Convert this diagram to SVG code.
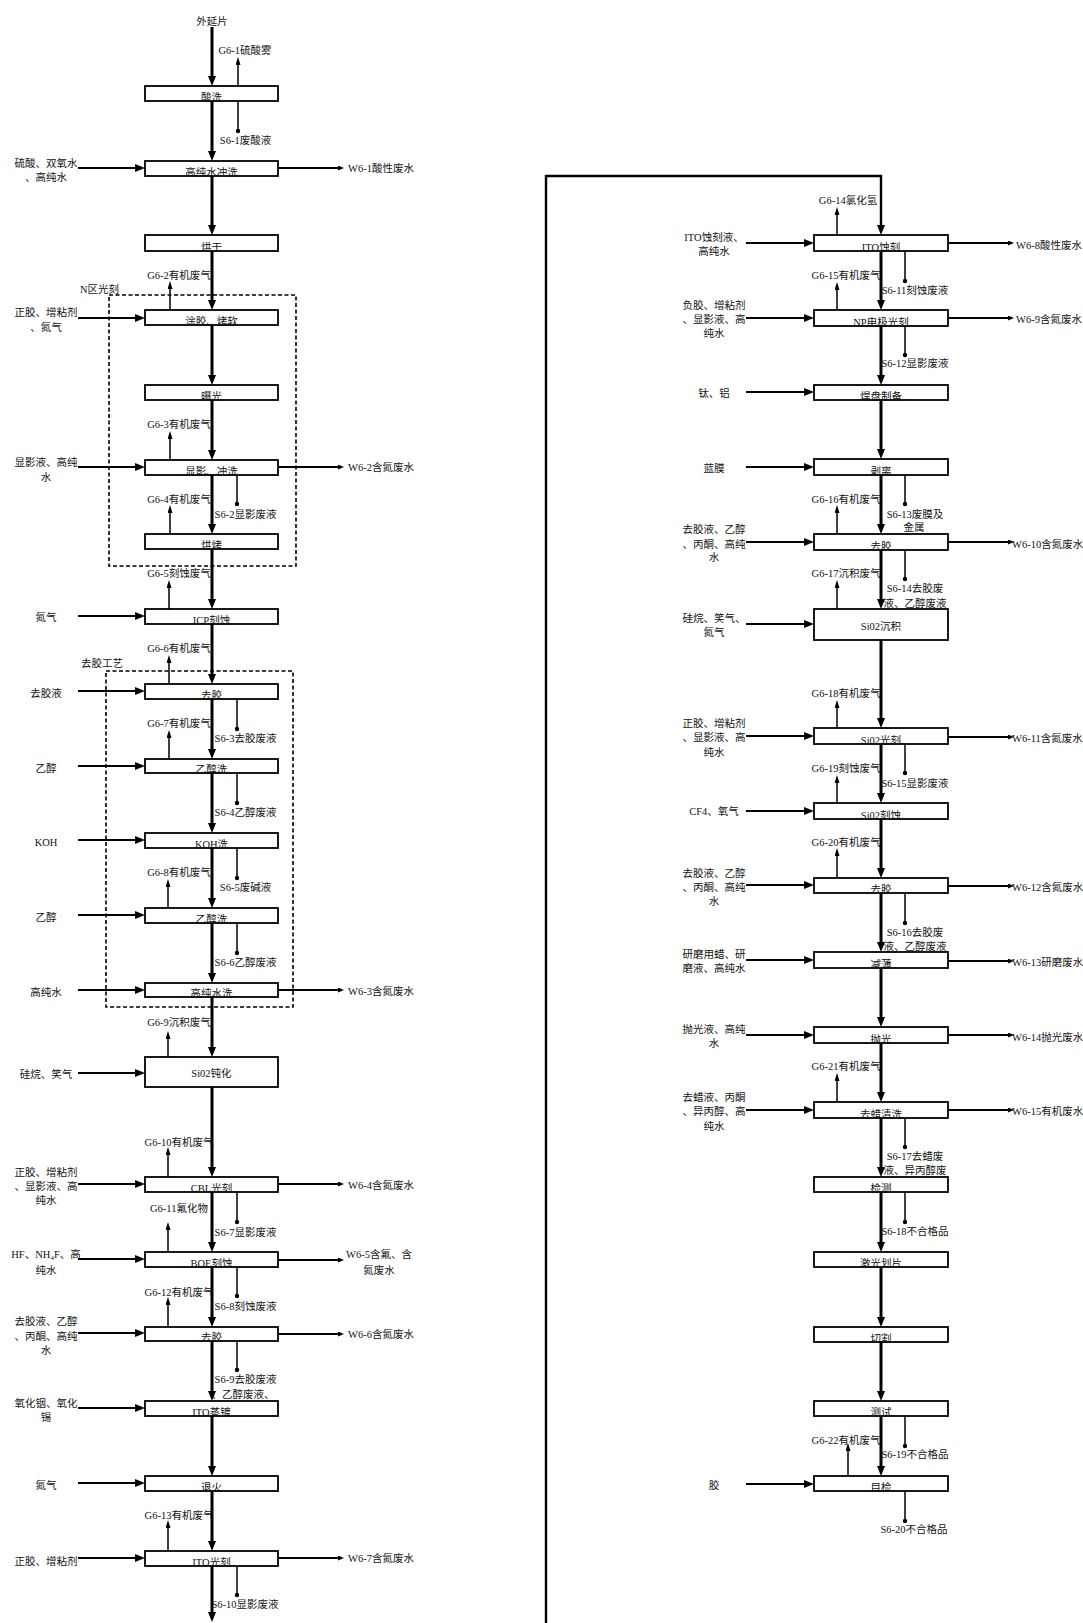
<svg xmlns="http://www.w3.org/2000/svg" width="1083" height="1623" viewBox="0 0 1083 1623">
<style>
text{font-family:"Liberation Serif","Noto Sans CJK SC",serif;font-size:10.5px;fill:#111}
.m{text-anchor:middle}
.box{fill:#fff;stroke:#000;stroke-width:1.8}
.main{stroke:#000;stroke-width:3;fill:none}
.loop{stroke:#000;stroke-width:2.4;fill:none}
.in{stroke:#000;stroke-width:2.2}
.out{stroke:#000;stroke-width:1.8}
.g{stroke:#000;stroke-width:1.5}
.s{stroke:#000;stroke-width:1.5}
.dash{fill:none;stroke:#000;stroke-width:1.6;stroke-dasharray:4 2.5}
</style>
<defs>
<marker id="a" viewBox="0 0 10 8" refX="4" refY="4" markerWidth="10" markerHeight="8" markerUnits="userSpaceOnUse" orient="auto"><path d="M0,0 L10,4 L0,8 z" fill="#000"/></marker>
<marker id="sm" viewBox="0 0 6 5" refX="3" refY="2.5" markerWidth="6" markerHeight="5" markerUnits="userSpaceOnUse" orient="auto"><path d="M0,0 L6,2.5 L0,5 z" fill="#000"/></marker>
<marker id="gm" viewBox="0 0 8 5" refX="4" refY="2.5" markerWidth="8" markerHeight="5" markerUnits="userSpaceOnUse" orient="auto"><path d="M0,0 L8,2.5 L0,5 z" fill="#000"/></marker>
</defs>
<rect width="1083" height="1623" fill="#fff"/>

<g id="connectors">
<g class="main" marker-end="url(#a)">
<line x1="212" y1="27" x2="212" y2="80"/>
<line x1="212" y1="101" x2="212" y2="155"/>
<line x1="212" y1="176" x2="212" y2="229"/>
<line x1="212" y1="251" x2="212" y2="304"/>
<line x1="212" y1="325" x2="212" y2="379"/>
<line x1="212" y1="400" x2="212" y2="454"/>
<line x1="212" y1="475" x2="212" y2="528"/>
<line x1="212" y1="549" x2="212" y2="603"/>
<line x1="212" y1="624" x2="212" y2="678"/>
<line x1="212" y1="699" x2="212" y2="753"/>
<line x1="212" y1="773" x2="212" y2="827"/>
<line x1="212" y1="848" x2="212" y2="902"/>
<line x1="212" y1="923" x2="212" y2="977"/>
<line x1="212" y1="997" x2="212" y2="1051"/>
<line x1="212" y1="1087" x2="212" y2="1171"/>
<line x1="212" y1="1192" x2="212" y2="1246"/>
<line x1="212" y1="1267" x2="212" y2="1321"/>
<line x1="212" y1="1341" x2="212" y2="1395"/>
<line x1="212" y1="1416" x2="212" y2="1470"/>
<line x1="212" y1="1491" x2="212" y2="1545"/>
<line x1="212" y1="1566" x2="212" y2="1616"/>
</g>
<path class="loop" d="M546,1623 V176 H881 V229" marker-end="url(#a)"/>
<g class="main" marker-end="url(#a)">
<line x1="881" y1="251" x2="881" y2="304"/>
<line x1="881" y1="326" x2="881" y2="379"/>
<line x1="881" y1="400" x2="881" y2="453"/>
<line x1="881" y1="475" x2="881" y2="528"/>
<line x1="881" y1="550" x2="881" y2="603"/>
<line x1="881" y1="640" x2="881" y2="722"/>
<line x1="881" y1="744" x2="881" y2="797"/>
<line x1="881" y1="819" x2="881" y2="872"/>
<line x1="881" y1="893" x2="881" y2="946"/>
<line x1="881" y1="968" x2="881" y2="1021"/>
<line x1="881" y1="1043" x2="881" y2="1096"/>
<line x1="881" y1="1118" x2="881" y2="1171"/>
<line x1="881" y1="1192" x2="881" y2="1246"/>
<line x1="881" y1="1267" x2="881" y2="1321"/>
<line x1="881" y1="1342" x2="881" y2="1395"/>
<line x1="881" y1="1416" x2="881" y2="1470"/>
</g>
<g class="in" marker-end="url(#a)">
<line x1="78" y1="168" x2="139" y2="168"/>
<line x1="78" y1="318" x2="139" y2="318"/>
<line x1="78" y1="467" x2="139" y2="467"/>
<line x1="78" y1="616" x2="139" y2="616"/>
<line x1="78" y1="691" x2="139" y2="691"/>
<line x1="78" y1="766" x2="139" y2="766"/>
<line x1="78" y1="840" x2="139" y2="840"/>
<line x1="78" y1="915" x2="139" y2="915"/>
<line x1="78" y1="990" x2="139" y2="990"/>
<line x1="78" y1="1073" x2="139" y2="1073"/>
<line x1="78" y1="1184" x2="139" y2="1184"/>
<line x1="78" y1="1259" x2="139" y2="1259"/>
<line x1="78" y1="1333" x2="139" y2="1333"/>
<line x1="78" y1="1408" x2="139" y2="1408"/>
<line x1="78" y1="1483" x2="139" y2="1483"/>
<line x1="78" y1="1558" x2="139" y2="1558"/>
</g>
<g class="in" marker-end="url(#a)">
<line x1="746" y1="243" x2="808" y2="243"/>
<line x1="746" y1="318" x2="808" y2="318"/>
<line x1="746" y1="392" x2="808" y2="392"/>
<line x1="746" y1="467" x2="808" y2="467"/>
<line x1="746" y1="542" x2="808" y2="542"/>
<line x1="746" y1="624" x2="808" y2="624"/>
<line x1="746" y1="736" x2="808" y2="736"/>
<line x1="746" y1="811" x2="808" y2="811"/>
<line x1="746" y1="885" x2="808" y2="885"/>
<line x1="746" y1="960" x2="808" y2="960"/>
<line x1="746" y1="1035" x2="808" y2="1035"/>
<line x1="746" y1="1110" x2="808" y2="1110"/>
<line x1="746" y1="1484" x2="808" y2="1484"/>
</g>
<g class="out" marker-end="url(#sm)">
<line x1="278" y1="168" x2="341" y2="168"/>
<line x1="278" y1="467" x2="341" y2="467"/>
<line x1="278" y1="990" x2="341" y2="990"/>
<line x1="278" y1="1184" x2="341" y2="1184"/>
<line x1="278" y1="1260" x2="341" y2="1260"/>
<line x1="278" y1="1334" x2="341" y2="1334"/>
<line x1="278" y1="1558" x2="341" y2="1558"/>
</g>
<g class="out" marker-end="url(#sm)">
<line x1="948" y1="243" x2="1011" y2="243"/>
<line x1="948" y1="318" x2="1011" y2="318"/>
<line x1="948" y1="542" x2="1011" y2="542"/>
<line x1="948" y1="737" x2="1011" y2="737"/>
<line x1="948" y1="886" x2="1011" y2="886"/>
<line x1="948" y1="961" x2="1011" y2="961"/>
<line x1="948" y1="1035" x2="1011" y2="1035"/>
<line x1="948" y1="1110" x2="1011" y2="1110"/>
</g>
<g class="g" marker-end="url(#gm)">
<line x1="238" y1="86" x2="238" y2="61"/>
<line x1="170" y1="310" x2="170" y2="285"/>
<line x1="170" y1="460" x2="170" y2="435"/>
<line x1="170" y1="534" x2="170" y2="509"/>
<line x1="169" y1="609" x2="169" y2="584"/>
<line x1="169" y1="684" x2="169" y2="659"/>
<line x1="169" y1="759" x2="169" y2="734"/>
<line x1="168" y1="908" x2="168" y2="883"/>
<line x1="168" y1="1057" x2="168" y2="1035"/>
<line x1="168" y1="1177" x2="168" y2="1151"/>
<line x1="168" y1="1252" x2="168" y2="1226"/>
<line x1="168" y1="1327" x2="168" y2="1301"/>
<line x1="168" y1="1551" x2="168" y2="1524"/>
<line x1="837" y1="235" x2="837" y2="211"/>
<line x1="837" y1="310" x2="837" y2="286"/>
<line x1="837" y1="534" x2="837" y2="509"/>
<line x1="837" y1="609" x2="837" y2="584"/>
<line x1="837" y1="728" x2="837" y2="704"/>
<line x1="837" y1="803" x2="837" y2="779"/>
<line x1="837" y1="878" x2="837" y2="852"/>
<line x1="837" y1="1102" x2="837" y2="1077"/>
<line x1="848" y1="1476" x2="848" y2="1447"/>
</g>
<g class="s">
<line x1="238" y1="101" x2="238" y2="131"/>
<line x1="237" y1="475" x2="237" y2="504"/>
<line x1="237" y1="699" x2="237" y2="729"/>
<line x1="237" y1="773" x2="237" y2="803"/>
<line x1="237" y1="848" x2="237" y2="878"/>
<line x1="237" y1="923" x2="237" y2="953"/>
<line x1="237" y1="1192" x2="237" y2="1222"/>
<line x1="237" y1="1267" x2="237" y2="1296"/>
<line x1="237" y1="1341" x2="237" y2="1370"/>
<line x1="237" y1="1566" x2="237" y2="1595"/>
<line x1="905" y1="251" x2="905" y2="281"/>
<line x1="905" y1="326" x2="905" y2="355"/>
<line x1="905" y1="475" x2="905" y2="504"/>
<line x1="905" y1="550" x2="905" y2="579"/>
<line x1="905" y1="744" x2="905" y2="773"/>
<line x1="905" y1="893" x2="905" y2="923"/>
<line x1="905" y1="1118" x2="905" y2="1147"/>
<line x1="905" y1="1192" x2="905" y2="1222"/>
<line x1="905" y1="1416" x2="905" y2="1446"/>
<line x1="905" y1="1491" x2="905" y2="1521"/>
</g>
<g fill="#000">
<circle cx="238" cy="131" r="2.2"/>
<circle cx="237" cy="504" r="2.2"/>
<circle cx="237" cy="729" r="2.2"/>
<circle cx="237" cy="803" r="2.2"/>
<circle cx="237" cy="878" r="2.2"/>
<circle cx="237" cy="953" r="2.2"/>
<circle cx="237" cy="1222" r="2.2"/>
<circle cx="237" cy="1296" r="2.2"/>
<circle cx="237" cy="1370" r="2.2"/>
<circle cx="237" cy="1595" r="2.2"/>
<circle cx="905" cy="281" r="2.2"/>
<circle cx="905" cy="355" r="2.2"/>
<circle cx="905" cy="504" r="2.2"/>
<circle cx="905" cy="579" r="2.2"/>
<circle cx="905" cy="773" r="2.2"/>
<circle cx="905" cy="923" r="2.2"/>
<circle cx="905" cy="1147" r="2.2"/>
<circle cx="905" cy="1222" r="2.2"/>
<circle cx="905" cy="1446" r="2.2"/>
<circle cx="905" cy="1521" r="2.2"/>
</g>
</g>

<g id="grp-n">
<rect class="dash" x="109" y="295" width="187" height="271"/>
<text x="80" y="293">N区光刻</text>
</g>
<g id="grp-qj">
<rect class="dash" x="106" y="671" width="187" height="336"/>
<text x="81" y="667">去胶工艺</text>
</g>

<g id="l0"><text class="m" x="212" y="25">外延片</text></g>
<g id="l1"><rect class="box" x="145" y="86" width="133" height="15"/><text class="m" x="211.5" y="100.5">酸洗</text></g>
<g id="l2"><rect class="box" x="145" y="161" width="133" height="15"/><text class="m" x="211.5" y="175.5">高纯水冲洗</text></g>
<g id="l3"><rect class="box" x="145" y="235" width="133" height="16"/><text class="m" x="211.5" y="250.5">烘干</text></g>
<g id="l4"><rect class="box" x="145" y="310" width="133" height="15"/><text class="m" x="211.5" y="324.5">涂胶、烤软</text></g>
<g id="l5"><rect class="box" x="145" y="385" width="133" height="15"/><text class="m" x="211.5" y="399.5">曝光</text></g>
<g id="l6"><rect class="box" x="145" y="460" width="133" height="15"/><text class="m" x="211.5" y="474.5">显影、冲洗</text></g>
<g id="l7"><rect class="box" x="145" y="534" width="133" height="15"/><text class="m" x="211.5" y="548.5">烘烤</text></g>
<g id="l8"><rect class="box" x="145" y="609" width="133" height="15"/><text class="m" x="211.5" y="623.5">ICP刻蚀</text></g>
<g id="l9"><rect class="box" x="145" y="684" width="133" height="15"/><text class="m" x="211.5" y="698.5">去胶</text></g>
<g id="l10"><rect class="box" x="145" y="759" width="133" height="14"/><text class="m" x="211.5" y="772.5">乙醇洗</text></g>
<g id="l11"><rect class="box" x="145" y="833" width="133" height="15"/><text class="m" x="211.5" y="847.5">KOH洗</text></g>
<g id="l12"><rect class="box" x="145" y="908" width="133" height="15"/><text class="m" x="211.5" y="922.5">乙醇洗</text></g>
<g id="l13"><rect class="box" x="145" y="983" width="133" height="14"/><text class="m" x="211.5" y="996.5">高纯水洗</text></g>
<g id="l14"><rect class="box" x="145" y="1057" width="133" height="30"/><text class="m" x="211.5" y="1077">Si02钝化</text></g>
<g id="l15"><rect class="box" x="145" y="1177" width="133" height="15"/><text class="m" x="211.5" y="1191.5">CBL光刻</text></g>
<g id="l16"><rect class="box" x="145" y="1252" width="133" height="15"/><text class="m" x="211.5" y="1266.5">BOE刻蚀</text></g>
<g id="l17"><rect class="box" x="145" y="1327" width="133" height="14"/><text class="m" x="211.5" y="1340.5">去胶</text></g>
<g id="l18"><rect class="box" x="145" y="1401" width="133" height="15"/><text class="m" x="211.5" y="1415.5">ITO蒸镀</text></g>
<g id="l19"><rect class="box" x="145" y="1476" width="133" height="15"/><text class="m" x="211.5" y="1490.5">退火</text></g>
<g id="l20"><rect class="box" x="145" y="1551" width="133" height="15"/><text class="m" x="211.5" y="1565.5">ITO光刻</text></g>

<g id="left-inputs">
<text class="m" x="46" y="167">硫酸、双氧水</text><text class="m" x="46" y="181">、高纯水</text>
<text class="m" x="46" y="316">正胶、增粘剂</text><text class="m" x="46" y="331">、氮气</text>
<text class="m" x="46" y="466">显影液、高纯</text><text class="m" x="46" y="481">水</text>
<text class="m" x="46" y="621">氮气</text>
<text class="m" x="46" y="697">去胶液</text>
<text class="m" x="46" y="772">乙醇</text>
<text class="m" x="46" y="846">KOH</text>
<text class="m" x="46" y="921">乙醇</text>
<text class="m" x="46" y="996">高纯水</text>
<text class="m" x="46" y="1078">硅烷、笑气</text>
<text class="m" x="46" y="1176">正胶、增粘剂</text><text class="m" x="46" y="1190">、显影液、高</text><text class="m" x="46" y="1204">纯水</text>
<text class="m" x="46" y="1258">HF、NH<tspan font-size="7" dy="2">4</tspan><tspan dy="-2">F、高</tspan></text><text class="m" x="46" y="1274">纯水</text>
<text class="m" x="46" y="1325">去胶液、乙醇</text><text class="m" x="46" y="1340">、丙酮、高纯</text><text class="m" x="46" y="1354">水</text>
<text class="m" x="46" y="1407">氧化铟、氧化</text><text class="m" x="46" y="1421">锡</text>
<text class="m" x="46" y="1489">氮气</text>
<text class="m" x="46" y="1565">正胶、增粘剂</text>
</g>

<g id="left-outputs">
<text x="348" y="172">W6-1酸性废水</text>
<text x="348" y="471">W6-2含氮废水</text>
<text x="348" y="995">W6-3含氮废水</text>
<text x="348" y="1189">W6-4含氮废水</text>
<text class="m" x="379" y="1258">W6-5含氟、含</text><text class="m" x="379" y="1274">氮废水</text>
<text x="348" y="1338">W6-6含氮废水</text>
<text x="348" y="1562">W6-7含氮废水</text>
</g>

<g id="left-gas">
<text class="m" x="245" y="54">G6-1硫酸雾</text>
<text class="m" x="179" y="279">G6-2有机废气</text>
<text class="m" x="179" y="428">G6-3有机废气</text>
<text class="m" x="179" y="503">G6-4有机废气</text>
<text class="m" x="179" y="577">G6-5刻蚀废气</text>
<text class="m" x="179" y="652">G6-6有机废气</text>
<text class="m" x="179" y="727">G6-7有机废气</text>
<text class="m" x="179" y="876">G6-8有机废气</text>
<text class="m" x="179" y="1026">G6-9沉积废气</text>
<text class="m" x="179" y="1146">G6-10有机废气</text>
<text class="m" x="179" y="1212">G6-11氟化物</text>
<text class="m" x="179" y="1296">G6-12有机废气</text>
<text class="m" x="179" y="1519">G6-13有机废气</text>
</g>

<g id="left-solid">
<text class="m" x="245.5" y="144">S6-1废酸液</text>
<text class="m" x="245.5" y="518">S6-2显影废液</text>
<text class="m" x="245.5" y="742">S6-3去胶废液</text>
<text class="m" x="245.5" y="816">S6-4乙醇废液</text>
<text class="m" x="245.5" y="891">S6-5废碱液</text>
<text class="m" x="245.5" y="966">S6-6乙醇废液</text>
<text class="m" x="245.5" y="1236">S6-7显影废液</text>
<text class="m" x="245.5" y="1310">S6-8刻蚀废液</text>
<text class="m" x="245.5" y="1383">S6-9去胶废液</text><text class="m" x="243" y="1398">、乙醇废液、</text>
<text class="m" x="245" y="1608">S6-10显影废液</text>
</g>

<g id="r1"><rect class="box" x="814" y="235" width="134" height="16"/><text class="m" x="881" y="250.5">ITO蚀刻</text></g>
<g id="r2"><rect class="box" x="814" y="310" width="134" height="16"/><text class="m" x="881" y="325.5">NP电极光刻</text></g>
<g id="r3"><rect class="box" x="814" y="385" width="134" height="15"/><text class="m" x="881" y="399.5">焊盘制备</text></g>
<g id="r4"><rect class="box" x="814" y="459" width="134" height="16"/><text class="m" x="881" y="474.5">剥离</text></g>
<g id="r5"><rect class="box" x="814" y="534" width="134" height="16"/><text class="m" x="881" y="549.5">去胶</text></g>
<g id="r6"><rect class="box" x="814" y="609" width="134" height="31"/><text class="m" x="881" y="630">Si02沉积</text></g>
<g id="r7"><rect class="box" x="814" y="728" width="134" height="16"/><text class="m" x="881" y="743.5">Si02光刻</text></g>
<g id="r8"><rect class="box" x="814" y="803" width="134" height="16"/><text class="m" x="881" y="818.5">Si02刻蚀</text></g>
<g id="r9"><rect class="box" x="814" y="878" width="134" height="15"/><text class="m" x="881" y="892.5">去胶</text></g>
<g id="r10"><rect class="box" x="814" y="952" width="134" height="16"/><text class="m" x="881" y="967.5">减薄</text></g>
<g id="r11"><rect class="box" x="814" y="1027" width="134" height="16"/><text class="m" x="881" y="1042.5">抛光</text></g>
<g id="r12"><rect class="box" x="814" y="1102" width="134" height="16"/><text class="m" x="881" y="1117.5">去蜡清洗</text></g>
<g id="r13"><rect class="box" x="814" y="1177" width="134" height="15"/><text class="m" x="881" y="1191.5">检测</text></g>
<g id="r14"><rect class="box" x="814" y="1252" width="134" height="15"/><text class="m" x="881" y="1266.5">激光划片</text></g>
<g id="r15"><rect class="box" x="814" y="1327" width="134" height="15"/><text class="m" x="881" y="1341.5">切割</text></g>
<g id="r16"><rect class="box" x="814" y="1401" width="134" height="15"/><text class="m" x="881" y="1415.5">测试</text></g>
<g id="r17"><rect class="box" x="814" y="1476" width="134" height="15"/><text class="m" x="881" y="1490.5">目检</text></g>

<g id="right-inputs">
<text class="m" x="714" y="241">ITO蚀刻液、</text><text class="m" x="714" y="255">高纯水</text>
<text class="m" x="714" y="309">负胶、增粘剂</text><text class="m" x="714" y="323">、显影液、高</text><text class="m" x="714" y="337">纯水</text>
<text class="m" x="714" y="397">钛、铝</text>
<text class="m" x="714" y="472">蓝膜</text>
<text class="m" x="714" y="533">去胶液、乙醇</text><text class="m" x="714" y="548">、丙酮、高纯</text><text class="m" x="714" y="561">水</text>
<text class="m" x="714" y="622">硅烷、笑气、</text><text class="m" x="714" y="636">氮气</text>
<text class="m" x="714" y="727">正胶、增粘剂</text><text class="m" x="714" y="741">、显影液、高</text><text class="m" x="714" y="756">纯水</text>
<text class="m" x="714" y="815">CF4、氧气</text>
<text class="m" x="714" y="877">去胶液、乙醇</text><text class="m" x="714" y="891">、丙酮、高纯</text><text class="m" x="714" y="905">水</text>
<text class="m" x="714" y="958">研磨用蜡、研</text><text class="m" x="714" y="972">磨液、高纯水</text>
<text class="m" x="714" y="1033">抛光液、高纯</text><text class="m" x="714" y="1047">水</text>
<text class="m" x="714" y="1101">去蜡液、丙酮</text><text class="m" x="714" y="1115">、异丙醇、高</text><text class="m" x="714" y="1130">纯水</text>
<text class="m" x="714" y="1489">胶</text>
</g>

<g id="right-outputs">
<text x="1016" y="249">W6-8酸性废水</text>
<text x="1016" y="323">W6-9含氮废水</text>
<text x="1012" y="548">W6-10含氮废水</text>
<text x="1012" y="742">W6-11含氮废水</text>
<text x="1012" y="891">W6-12含氮废水</text>
<text x="1012" y="966">W6-13研磨废水</text>
<text x="1012" y="1041">W6-14抛光废水</text>
<text x="1012" y="1115">W6-15有机废水</text>
</g>

<g id="right-gas">
<text class="m" x="848" y="204">G6-14氯化氢</text>
<text class="m" x="846" y="279">G6-15有机废气</text>
<text class="m" x="846" y="503">G6-16有机废气</text>
<text class="m" x="846" y="577">G6-17沉积废气</text>
<text class="m" x="846" y="697">G6-18有机废气</text>
<text class="m" x="846" y="772">G6-19刻蚀废气</text>
<text class="m" x="846" y="846">G6-20有机废气</text>
<text class="m" x="846" y="1070">G6-21有机废气</text>
<text class="m" x="846" y="1444">G6-22有机废气</text>
</g>

<g id="right-solid">
<text class="m" x="915" y="294">S6-11刻蚀废液</text>
<text class="m" x="915" y="367">S6-12显影废液</text>
<text class="m" x="915" y="518">S6-13废膜及</text><text class="m" x="914" y="531">金属</text>
<text class="m" x="915" y="592">S6-14去胶废</text><text class="m" x="915" y="607">液、乙醇废液</text>
<text class="m" x="915" y="787">S6-15显影废液</text>
<text class="m" x="915" y="936">S6-16去胶废</text><text class="m" x="915" y="950">液、乙醇废液</text>
<text class="m" x="915" y="1160">S6-17去蜡废</text><text class="m" x="915" y="1174">液、异丙醇废</text>
<text class="m" x="915" y="1235">S6-18不合格品</text>
<text class="m" x="915" y="1458">S6-19不合格品</text>
<text class="m" x="914" y="1533">S6-20不合格品</text>
</g>
</svg>
